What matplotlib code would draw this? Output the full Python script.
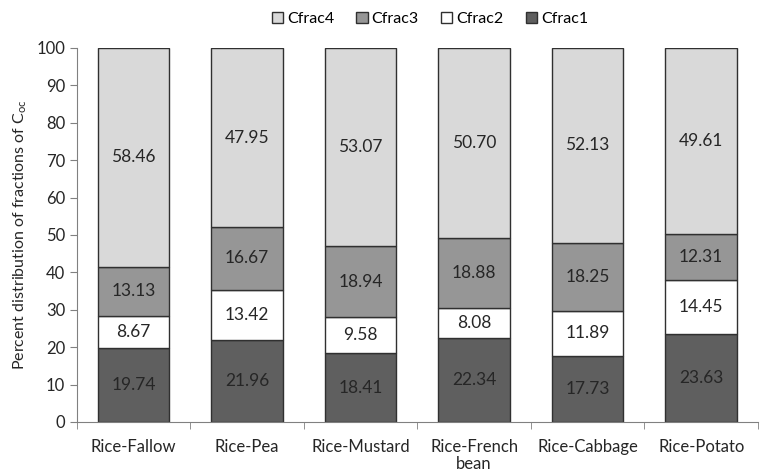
import numpy as np
import matplotlib.pyplot as plt
from matplotlib.ticker import FixedLocator

plt.rcParams['font.family'] = ['Lato', 'DejaVu Sans']

systems = ['Rice-Fallow', 'Rice-Pea', 'Rice-Mustard', 'Rice-French\nbean', 'Rice-Cabbage', 'Rice-Potato']
cfrac1 = [19.74, 21.96, 18.41, 22.34, 17.73, 23.63]
cfrac2 = [8.67, 13.42, 9.58, 8.08, 11.89, 14.45]
cfrac3 = [13.13, 16.67, 18.94, 18.88, 18.25, 12.31]
cfrac4 = [58.46, 47.95, 53.07, 50.70, 52.13, 49.61]

series = [('Cfrac1', cfrac1, '#5f5f5f'),
          ('Cfrac2', cfrac2, '#ffffff'),
          ('Cfrac3', cfrac3, '#969696'),
          ('Cfrac4', cfrac4, '#d9d9d9')]

fig = plt.figure(figsize=(7.61, 4.75), dpi=100)
ax = fig.add_axes([0.101, 0.1116, 0.895, 0.7874])

x = np.arange(len(systems))
bottom = np.zeros(len(systems))
handles = {}
for name, vals, color in series:
    vals = np.array(vals)
    bars = ax.bar(x, vals, 0.63, bottom=bottom, color=color,
                  edgecolor='#303030', linewidth=1.0, label=name)
    handles[name] = bars
    for xi, b, v in zip(x, bottom, vals):
        ax.text(xi, b + v / 2, f'{v:.2f}', ha='center', va='center',
                fontsize=12.5, color='#262626')
    bottom += vals

ax.set_xlim(-0.5, len(systems) - 0.5)
ax.set_ylim(0, 100)
ax.set_yticks(np.arange(0, 101, 10))
ax.set_xticks(x)
ax.set_xticklabels(systems, fontsize=12, color='#262626', linespacing=1.1)
ax.xaxis.set_minor_locator(FixedLocator(np.arange(-0.5, len(systems), 1)))
ax.tick_params(axis='x', which='major', length=0, pad=12)
ax.tick_params(axis='x', which='minor', length=5, color='#808080', direction='out')
ax.tick_params(axis='y', length=5, color='#808080', labelsize=12, labelcolor='#262626')
ax.set_ylabel('Percent distribution of fractions of C$_{\\mathregular{oc}}$',
              fontsize=11.5, color='#262626', labelpad=5)

for s in ['top', 'right']:
    ax.spines[s].set_visible(False)
for s in ['left', 'bottom']:
    ax.spines[s].set_color('#808080')

order = ['Cfrac4', 'Cfrac3', 'Cfrac2', 'Cfrac1']
fig.legend([handles[n] for n in order], order, loc='center', ncol=4,
           bbox_to_anchor=(0.565, 0.96), frameon=False, fontsize=11.5,
           handlelength=0.7, handleheight=0.7, handletextpad=0.25, columnspacing=1.4)

fig.savefig('out.png', dpi=100)
